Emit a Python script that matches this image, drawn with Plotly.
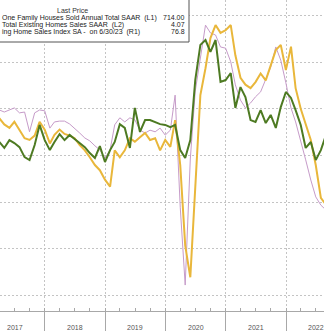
import pandas as pd
import plotly.graph_objects as go

# Monthly observations (end-of-month), Feb 2017 .. Aug 2022
months = (pd.date_range(start="2017-02-01", periods=67, freq="MS") + pd.offsets.MonthEnd(0))

# New One Family Houses Sold, annual total SAAR, thousands (L1)
new_home_sales = [640, 625, 603, 632, 621, 606, 569, 558, 614, 688, 632,
                  595, 625, 654, 632, 651, 636, 621, 606, 584, 566, 610, 551,
                  595, 625, 691, 677, 603, 751, 662, 706, 706, 699, 691, 688,
                  680, 688, 595, 566, 632, 854, 984, 1002, 958, 1002, 847, 854,
                  880, 751, 828, 791, 706, 699, 743, 695, 725, 677, 754, 810,
                  788, 743, 688, 603, 625, 558, 595, 651]

# Total Existing Homes Sales SAAR, millions (L2)
existing_home_sales = [5.65, 5.73, 5.66, 5.62, 5.69, 5.60, 5.50, 5.48, 5.53, 5.69, 5.60,
                       5.44, 5.54, 5.60, 5.55, 5.53, 5.50, 5.42, 5.36, 5.28, 5.19, 5.13, 5.02,
                       4.94, 5.36, 5.28, 5.36, 5.50, 5.46, 5.51, 5.56, 5.48, 5.50, 5.36, 5.48,
                       5.40, 5.71, 5.19, 4.26, 3.89, 4.96, 6.00, 6.31, 6.66, 6.81, 6.72, 6.75,
                       6.81, 6.46, 6.20, 6.12, 6.08, 6.15, 6.25, 6.17, 6.35, 6.52, 6.58, 6.29,
                       6.56, 6.08, 5.84, 5.65, 5.48, 5.19, 4.81, 4.73]

# Pending Home Sales Index SA (R1)
pending_home_sales = [110.8, 111.3, 110.8, 111.3, 111.8, 110.6, 110.8, 106.0, 110.6, 111.3, 111.1,
                      106.9, 108.4, 108.6, 108.6, 107.9, 106.9, 105.7, 104.5, 103.8, 102.6, 101.6, 99.6,
                      101.6, 107.7, 109.4, 108.4, 109.4, 108.9, 106.4, 105.7, 106.4, 106.0, 106.9, 105.2,
                      106.4, 114.9, 87.7, 68.8, 99.4, 115.9, 123.4, 131.9, 130.0, 129.5, 126.6, 126.3,
                      123.0, 117.4, 113.7, 111.8, 113.0, 114.5, 115.7, 118.6, 121.7, 126.6, 123.4, 117.9,
                      111.8, 108.4, 104.0, 99.2, 94.3, 90.2, 88.2, 87.0]

year_labels = ["2017", "2018", "2019", "2020", "2021", "2022"]
legend_names = ["One Family Houses Sold Annual Total SAAR  (L1)",
                "Total Existing Homes Sales SAAR  (L2)",
                "ing Home Sales Index SA -  on 6/30/23  (R1)"]
legend_values = ["714.00", "4.07", "76.8"]

GREEN = "#4d7a22"
GOLD = "#e9b73b"
PURPLE = "#c69bc9"
GRID = "#c4c4c4"
AXIS = "#a8a8a8"

W, H_PLOT = 324, 311

fig = go.Figure()
fig.add_trace(go.Scatter(x=months, y=pending_home_sales, yaxis="y", mode="lines",
                         line=dict(color=PURPLE, width=1), showlegend=False))
fig.add_trace(go.Scatter(x=months, y=existing_home_sales, yaxis="y2", mode="lines",
                         line=dict(color=GOLD, width=2), showlegend=False))
fig.add_trace(go.Scatter(x=months, y=new_home_sales, yaxis="y3", mode="lines",
                         line=dict(color=GREEN, width=2), showlegend=False))

year_starts = [f"{y}-01-01" for y in range(2017, 2024)]

fig.update_layout(
    width=W, height=331,
    margin=dict(l=0, r=0, t=0, b=20),
    paper_bgcolor="white", plot_bgcolor="white",
    showlegend=False,
    xaxis=dict(type="date", range=["2017-04-04", "2022-08-19"],
               tickmode="array", tickvals=year_starts, showticklabels=False,
               ticks="outside", ticklen=20, tickcolor=AXIS, tickwidth=1,
               showgrid=True, gridcolor=GRID, griddash="2px,2px", gridwidth=1,
               showline=True, linecolor=AXIS, linewidth=1, zeroline=False,
               minor=dict(ticks="inside", ticklen=3, tickcolor=AXIS, tickwidth=1,
                          dtick="M3", tick0="2017-01-01", showgrid=False)),
    yaxis=dict(range=[62.5, 138.0], tickmode="linear", tick0=66.38, dtick=11.29,
               showticklabels=False, ticks="", showgrid=True, gridcolor=GRID,
               griddash="2px,2px", gridwidth=1, zeroline=False, showline=False),
    yaxis2=dict(range=[3.50, 7.10], overlaying="y", visible=False),
    yaxis3=dict(range=[0, 1150], overlaying="y", visible=False),
)

# legend box
fig.add_shape(type="rect", xref="paper", yref="paper",
              x0=-0.05, x1=189 / W, y0=1 - 42 / H_PLOT, y1=1.05,
              line=dict(color="#555555", width=1), fillcolor="white", layer="above")

def py(p):
    return 1 - p / H_PLOT

FONT = "Liberation Sans"
fig.add_annotation(text="Last Price", x=72 / W, y=py(10), xref="paper", yref="paper",
                   xanchor="center", yanchor="middle", showarrow=False,
                   font=dict(family=FONT, size=7, color="#333333"))
row_y = [18, 25, 32]
for name, val, ry in zip(legend_names, legend_values, row_y):
    fig.add_annotation(text=name, x=0, y=py(ry), xref="paper", yref="paper",
                       xanchor="left", yanchor="middle", showarrow=False,
                       font=dict(family=FONT, size=7, color="#222222"))
    fig.add_annotation(text=val, x=187 / W, y=py(ry), xref="paper", yref="paper",
                       xanchor="right", yanchor="middle", showarrow=False,
                       font=dict(family=FONT, size=7, color="#222222"))

# year labels centred in each year
for lab in year_labels:
    fig.add_annotation(text=lab, x=f"{lab}-07-02", y=-16 / H_PLOT, xref="x", yref="paper",
                       xanchor="center", yanchor="middle", showarrow=False,
                       font=dict(family=FONT, size=7, color="#555555"))

fig.write_html("out.html")
